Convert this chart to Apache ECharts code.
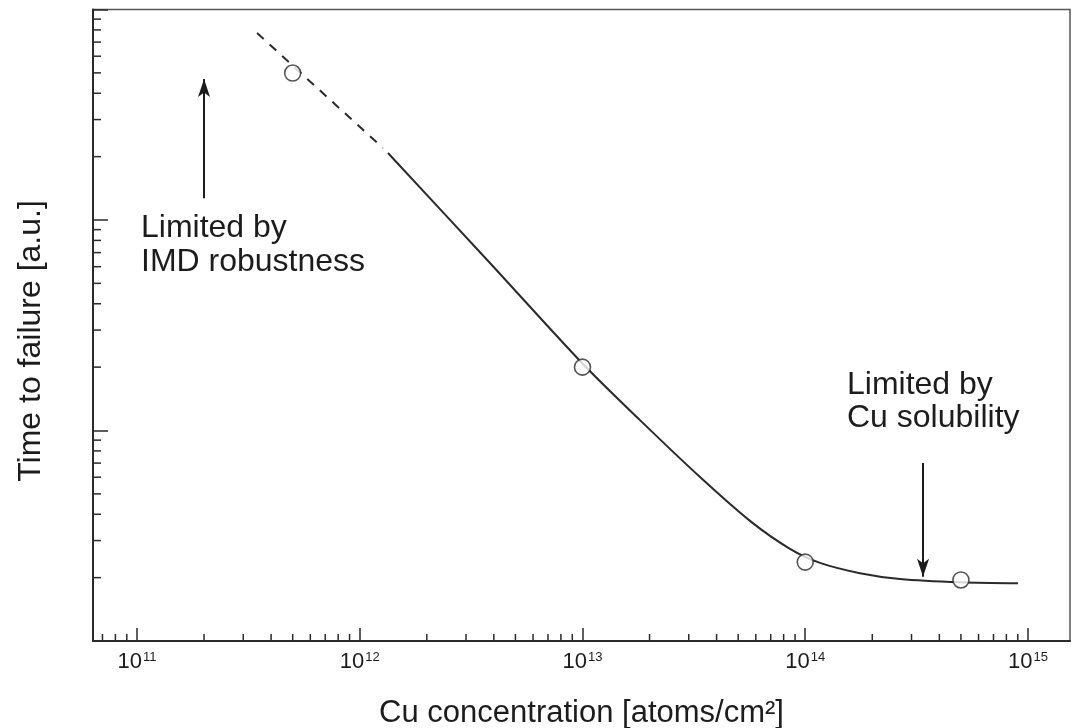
<!DOCTYPE html>
<html>
<head>
<meta charset="utf-8">
<script src="https://cdn.jsdelivr.net/npm/echarts@6/dist/echarts.min.js"></script>
<style>
  html, body { margin: 0; padding: 0; background: #ffffff; }
  #chart { width: 1078px; height: 728px; }
</style>
</head>
<body>
<div id="chart"></div>
<script>
// ---- data ----
const xTickExponents = [11, 12, 13, 14, 15];
const xMinorTicks = [7e10, 8e10, 9e10,
  2e11, 3e11, 4e11, 5e11, 6e11, 7e11, 8e11, 9e11,
  2e12, 3e12, 4e12, 5e12, 6e12, 7e12, 8e12, 9e12,
  2e13, 3e13, 4e13, 5e13, 6e13, 7e13, 8e13, 9e13,
  2e14, 3e14, 4e14, 5e14, 6e14, 7e14, 8e14, 9e14];
const yMinorTicks = [2, 3, 4, 5, 6, 7, 8, 9, 20, 30, 40, 50, 60, 70, 80, 90, 200, 300, 400, 500, 600, 700, 800, 900];

const measuredX = [5e11, 1e13, 1e14, 5e14];
const measuredY = [499, 20.0, 2.37, 1.95];

const extrapX = [3.46e11, 1.27e12];
const extrapY = [773, 220];

const fitX = [1.339e12, 3.843e12, 1.005e13, 1.812e13, 3.37e13, 5.65e13, 8.54e13, 1.165e14, 1.761e14, 2.664e14, 4.95e14, 9.02e14];
const fitY = [208, 62.5, 20.7, 11.2, 6.01, 3.72, 2.74, 2.35, 2.10, 1.97, 1.90, 1.88];

const arrowIMD = [[2.0e11, 127], [2.0e11, 467]];
const arrowCu = [[3.38e14, 7.0], [3.38e14, 2.02]];

const noteIMD = 'Limited by\nIMD robustness';
const noteCu = 'Limited by\nCu solubility';
const xTitle = 'Cu concentration [atoms/cm\u00B2]';
const yTitle = 'Time to failure [a.u.]';

// ---- chart ----
const FONT = '"Liberation Sans", Arial, Helvetica, sans-serif';
const INK = '#1c1c1c';
const LINE = '#2a2a2a';
const X_MIN = 6.346e10, X_MAX = 1.544e15, Y_MIN = 1, Y_MAX = 1000;

const chart = echarts.init(document.getElementById('chart'), null, { renderer: 'canvas' });

function zip(xs, ys) { return xs.map((x, i) => [x, ys[i]]); }

const option = {
  animation: false,
  backgroundColor: '#ffffff',
  grid: {
    left: 93, right: 8, top: 9.5, bottom: 87,
    containLabel: false, outerBoundsMode: 'none',
    show: true, borderColor: '#555', borderWidth: 1.5, backgroundColor: 'transparent'
  },
  xAxis: {
    type: 'log', logBase: 10, min: X_MIN, max: X_MAX,
    axisLine: { show: true, lineStyle: { color: LINE, width: 2 } },
    axisTick: { show: true, inside: true, length: 13, lineStyle: { color: LINE, width: 1.5 } },
    minorTick: { show: false },
    splitLine: { show: false },
    axisLabel: {
      show: true, margin: 10, showMinLabel: false, showMaxLabel: false,
      formatter: function (v) {
        const lg = Math.log10(v);
        const e = Math.round(lg);
        if (Math.abs(lg - e) > 1e-6 || xTickExponents.indexOf(e) < 0) return '';
        return '{b|10}{s|' + e + '}';
      },
      rich: {
        b: { fontSize: 22, fontFamily: FONT, color: INK, lineHeight: 22 },
        s: { fontSize: 13, fontFamily: FONT, color: INK, verticalAlign: 'top', lineHeight: 13, padding: [0, 0, 0, 1] }
      }
    },
    name: xTitle, nameLocation: 'middle', nameGap: 57,
    nameTextStyle: { fontSize: 31, fontFamily: FONT, color: INK }
  },
  yAxis: {
    type: 'log', logBase: 10, min: Y_MIN, max: Y_MAX,
    axisLine: { show: true, lineStyle: { color: LINE, width: 2 } },
    axisTick: { show: true, inside: true, length: 15, lineStyle: { color: LINE, width: 1.5 } },
    minorTick: { show: false },
    splitLine: { show: false },
    axisLabel: { show: false }
  },
  graphic: [
    { type: 'text', left: 141, top: 211, silent: true,
      style: { text: noteIMD, font: '32px ' + FONT, lineHeight: 34, fill: INK } },
    { type: 'text', left: 847, top: 369, silent: true,
      style: { text: noteCu, font: '32px ' + FONT, lineHeight: 33, fill: INK } },
    { type: 'text', x: 31, y: 341, rotation: Math.PI / 2, silent: true,
      style: { text: yTitle, font: '32px ' + FONT, fill: INK, align: 'center', verticalAlign: 'middle' } }
  ],
  series: [
    {
      type: 'custom', name: 'xMinor', silent: true, clip: false, z: 5,
      data: xMinorTicks.map(v => [v, Y_MIN]),
      renderItem: function (params, api) {
        const p = api.coord([api.value(0), api.value(1)]);
        return { type: 'line', shape: { x1: p[0], y1: p[1], x2: p[0], y2: p[1] - 7 },
                 style: { stroke: LINE, lineWidth: 1.5 } };
      }
    },
    {
      type: 'custom', name: 'yMinor', silent: true, clip: false, z: 5,
      data: yMinorTicks.map(v => [X_MIN, v]),
      renderItem: function (params, api) {
        const p = api.coord([api.value(0), api.value(1)]);
        return { type: 'line', shape: { x1: p[0], y1: p[1], x2: p[0] + 8, y2: p[1] },
                 style: { stroke: LINE, lineWidth: 1.5 } };
      }
    },
    {
      type: 'line', name: 'extrapolation', data: zip(extrapX, extrapY),
      showSymbol: false, symbol: 'none', silent: true,
      lineStyle: { color: LINE, width: 2, type: [9, 8] }, z: 3
    },
    {
      type: 'line', name: 'fit', data: zip(fitX, fitY),
      showSymbol: false, symbol: 'none', silent: true,
      smooth: 0.3,
      lineStyle: { color: LINE, width: 2 }, z: 3,
      markLine: {
        silent: true, animation: false,
        symbol: ['none', 'arrow'], symbolSize: [9, 18],
        label: { show: false },
        lineStyle: { color: INK, width: 2, type: 'solid' },
        emphasis: { disabled: true },
        data: [
          [{ coord: arrowIMD[0] }, { coord: arrowIMD[1] }],
          [{ coord: arrowCu[0] }, { coord: arrowCu[1] }]
        ]
      }
    },
    {
      type: 'scatter', name: 'measured', data: zip(measuredX, measuredY),
      symbol: 'circle', symbolSize: 16, silent: true, z: 4,
      itemStyle: { color: '#ffffff', borderColor: LINE, borderWidth: 1.6 }
    }
  ]
};

chart.setOption(option);
</script>
</body>
</html>
